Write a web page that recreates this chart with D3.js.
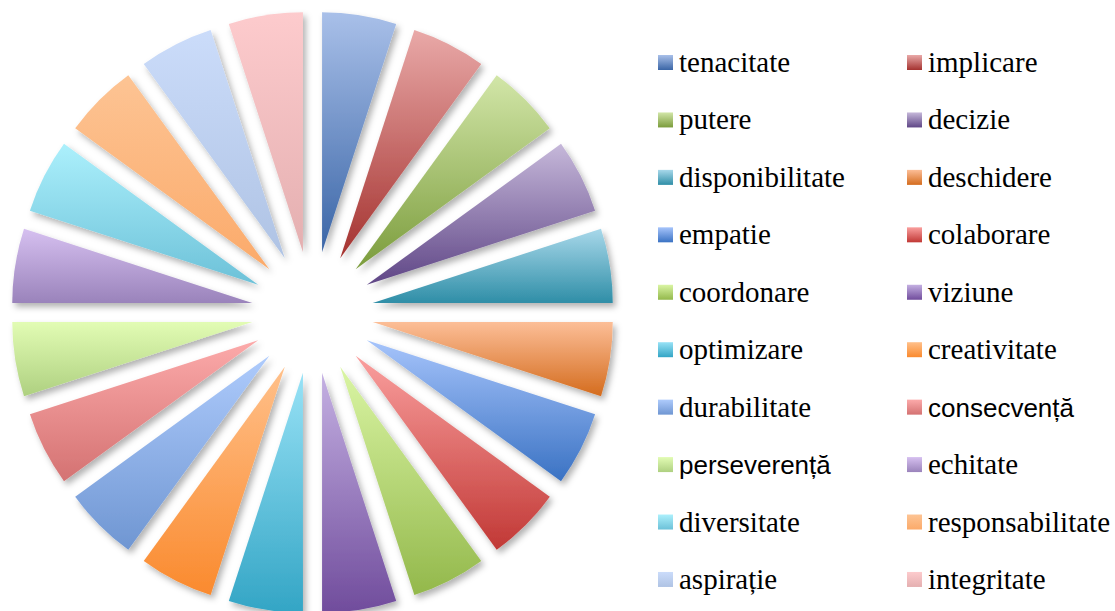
<!DOCTYPE html>
<html>
<head>
<meta charset="utf-8">
<script src="https://d3js.org/d3.v7.min.js"></script>
<style>
  body { margin: 0; background: #fff; }
  svg { display: block; }
  .lbl { font-family: "Liberation Serif", "Times New Roman", serif; font-size: 29px; fill: #000; }
  .lbl.sans { font-family: "Liberation Sans", Arial, sans-serif; font-size: 26px; }
</style>
</head>
<body>
<script>
  // data
  var labels = ['tenacitate', 'implicare', 'putere', 'decizie', 'disponibilitate',
    'deschidere', 'empatie', 'colaborare', 'coordonare', 'viziune',
    'optimizare', 'creativitate', 'durabilitate', 'consecvență', 'perseverență',
    'echitate', 'diversitate', 'responsabilitate', 'aspirație', 'integritate'];
  var values = [1, 1, 1, 1, 1, 1, 1, 1, 1, 1, 1, 1, 1, 1, 1, 1, 1, 1, 1, 1];
  // gradient stops, light (top) -> dark (bottom)
  var topColors = ['#a9c0e9', '#e9a9a8', '#d2e6a8', '#c6b8da', '#a8d8ea',
    '#fcbe97', '#a6c4fb', '#fa9f9e', '#daf5a4', '#c4b0e2',
    '#98e2f6', '#ffc08a', '#aecbfc', '#fcaaaa', '#e2fcb4',
    '#d6c0f0', '#acf0fc', '#fdc494', '#cbdcfa', '#fdcbcd'];
  var bottomColors = ['#3a65a6', '#a4322f', '#7b9c3c', '#5f4686', '#2f8ea7',
    '#d46c1e', '#3a72c3', '#c13835', '#93b84b', '#704c9c',
    '#33a5c5', '#fa8a2e', '#6f96d2', '#d47272', '#aed080',
    '#9a83bb', '#6cc1d8', '#fbaa6a', '#afc3e4', '#e4afb0'];
  var sansLabels = ['consecvență', 'perseverență'];

  // properties
  var width = 1115;
  var height = 611;
  var cx = 312.5, cy = 312.5;
  var radius = 240;
  var explode = 61;

  var svg = d3.select('body').append('svg')
    .attr('width', width)
    .attr('height', height);

  var defs = svg.append('defs');
  var grads = defs.selectAll('linearGradient')
    .data(labels)
    .enter().append('linearGradient')
    .attr('id', function(d, i) { return 'g' + i; })
    .attr('x1', 0).attr('y1', 0).attr('x2', 0).attr('y2', 1);
  grads.append('stop').attr('offset', '0%').attr('stop-color', function(d, i) { return topColors[i]; });
  grads.append('stop').attr('offset', '100%').attr('stop-color', function(d, i) { return bottomColors[i]; });

  var filter = defs.append('filter').attr('id', 'shadow')
    .attr('x', '-20%').attr('y', '-20%').attr('width', '140%').attr('height', '140%');
  filter.append('feDropShadow')
    .attr('dx', 3).attr('dy', 4).attr('stdDeviation', 3)
    .attr('flood-color', '#000').attr('flood-opacity', 0.3);

  var pie = d3.pie().sort(null).value(function(d) { return d; });
  var arc = d3.arc().innerRadius(0).outerRadius(radius);
  var arcs = pie(values);

  svg.append('g')
    .attr('transform', 'translate(' + cx + ',' + cy + ')')
    .selectAll('path')
    .data(arcs)
    .enter().append('path')
    .attr('d', arc)
    .attr('fill', function(d, i) { return 'url(#g' + i + ')'; })
    .attr('filter', 'url(#shadow)')
    .attr('transform', function(d) {
      var a = (d.startAngle + d.endAngle) / 2;
      return 'translate(' + (explode * Math.sin(a)) + ',' + (-explode * Math.cos(a)) + ')';
    });

  // legend
  var colX = [658, 907];
  var row0 = 72, rowStep = 57.44;
  var legend = svg.append('g').selectAll('g')
    .data(labels)
    .enter().append('g')
    .attr('transform', function(d, i) {
      return 'translate(' + colX[i % 2] + ',' + (row0 + Math.floor(i / 2) * rowStep) + ')';
    });
  legend.append('rect')
    .attr('x', 0).attr('y', -17)
    .attr('width', 15).attr('height', 15)
    .attr('fill', function(d, i) { return 'url(#g' + i + ')'; });
  legend.append('text')
    .attr('class', function(d) { return sansLabels.indexOf(d) >= 0 ? 'lbl sans' : 'lbl'; })
    .attr('x', 21).attr('y', 0)
    .text(function(d) { return d; });
</script>
</body>
</html>
